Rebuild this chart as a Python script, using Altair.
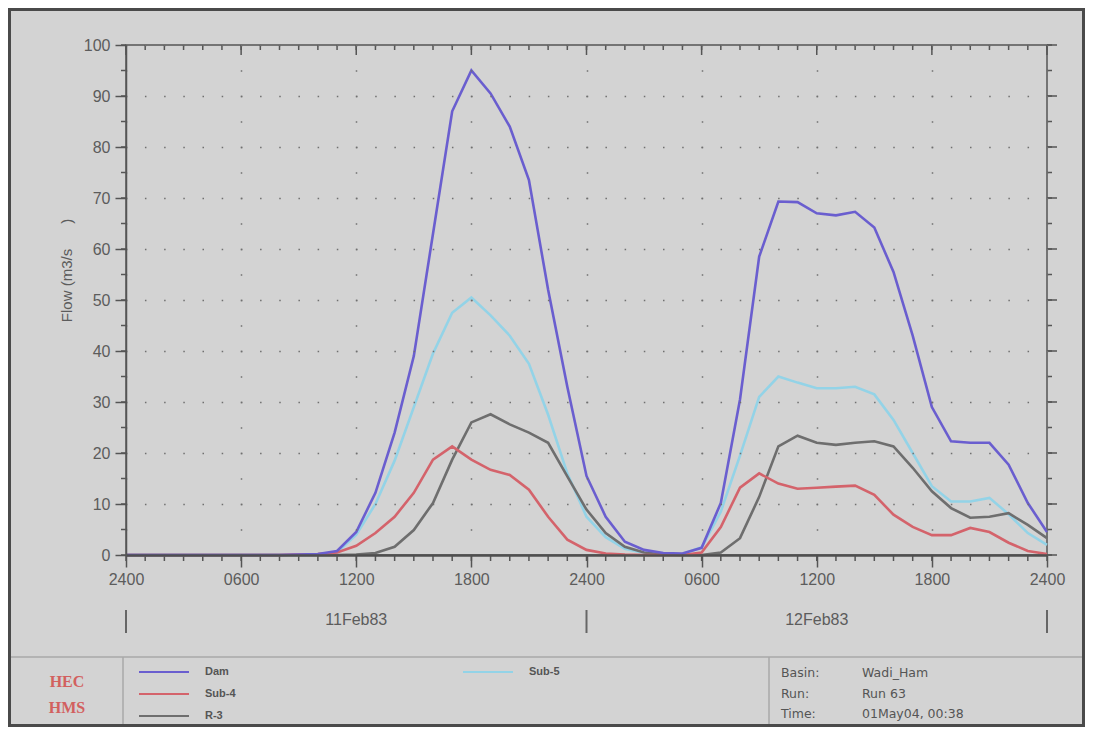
import json
import altair as alt
import pandas as pd

# ---------------- data ----------------
hours = list(range(49))  # hours since 2400 10Feb83
dam = [0, 0, 0, 0, 0, 0, 0, 0, 0, 0.1, 0.2,
       0.8, 4.5, 12.2, 24, 39, 63, 87, 95, 90.5, 84, 73.5, 52, 33, 15.5, 7.5, 2.6, 1.0, 0.4,
       0.3, 1.4, 10.2, 30.5, 58.5, 69.3, 69.2, 67, 66.6, 67.3, 64.2, 55.5, 43, 29, 22.3,
       22.0, 22.0, 17.7, 10.2, 4.5]
sub5 = [0, 0, 0, 0, 0, 0, 0, 0, 0, 0, 0.1,
        0.5, 4, 10, 18.5, 29, 39.5, 47.5, 50.5, 47, 43, 37.5, 27.5, 16, 7.5, 3.5, 1.2, 0.4, 0.1,
        0.2, 1.5, 8.5, 19.5, 31, 35, 33.8, 32.7, 32.7, 33, 31.5, 26.5, 20, 13.5, 10.5,
        10.5, 11.2, 8, 4.3, 2]
sub4 = [0, 0, 0, 0, 0, 0, 0, 0, 0, 0.1, 0.2,
        0.5, 1.8, 4.3, 7.5, 12.2, 18.7, 21.3, 18.7, 16.7, 15.7, 12.8, 7.5, 3, 1, 0.3, 0.1, 0, 0,
        0, 0.5, 5.5, 13.2, 16, 14, 13, 13.2, 13.4, 13.6, 11.8, 7.9, 5.5, 3.9, 3.9,
        5.3, 4.5, 2.4, 0.8, 0.2]
r3 = [0, 0, 0, 0, 0, 0, 0, 0, 0, 0, 0,
      0, 0.1, 0.4, 1.6, 4.9, 10.2, 18.7, 26, 27.6, 25.6, 24, 22, 15.4, 8.9, 4.3, 1.6, 0.5, 0.1,
      0, 0, 0.5, 3.3, 11.4, 21.3, 23.4, 22, 21.6, 22, 22.3, 21.3, 17.1, 12.5, 9.2,
      7.3, 7.5, 8.2, 5.9, 3.3]

series_main = ["Dam", "Sub-4", "R-3"]
colors_main = ["#6a5ecf", "#d4636b", "#6e6e6e"]
series_extra = ["Sub-5"]
colors_extra = ["#93d3e7"]

x_tick_values = [0, 6, 12, 18, 24, 30, 36, 42, 48]
x_tick_labels = ["2400", "0600", "1200", "1800", "2400", "0600", "1200", "1800", "2400"]
y_tick_values = list(range(0, 101, 10))
y_minor_values = list(range(0, 101, 5))

dates = ["11Feb83", "12Feb83"]
date_centers = [12, 36]
day_bounds = [0, 24, 48]

logo_lines = ["HEC", "HMS"]
info_labels = ["Basin:", "Run:", "Time:"]
info_values = ["Wadi_Ham", "Run 63", "01May04, 00:38"]

# ---------------- layout ----------------
W, H = 921, 510
AX = "#555555"
TXT = "#5c5c5c"
BG = "#d3d3d3"
FONT = "Liberation Sans"

xs = alt.Scale(domain=[0, 48], nice=False, zero=False)
ys = alt.Scale(domain=[0, 100], nice=False, zero=False)

label_expr = json.dumps(x_tick_labels) + "[round(datum.value / 6)]"

x_axis = alt.Axis(values=x_tick_values, labelExpr=label_expr, title=None,
                  tickSize=12, tickWidth=1.5, tickColor=AX,
                  domainColor="#4f4f4f", domainWidth=2.6,
                  labelFont=FONT, labelFontSize=16, labelColor=TXT, labelPadding=4,
                  labelFlush=False, labelOverlap=False, labelBound=False,
                  grid=True, gridColor="#707070", gridWidth=1.5,
                  gridDash=[1.5, 24.0], gridDashOffset=0.75, zindex=1)
y_axis = alt.Axis(values=y_tick_values,
                  title="Flow\u00a0(m3/s" + "\u00a0" * 6 + ")",
                  tickSize=11, tickWidth=1.5, tickColor=AX,
                  domainColor=AX, domainWidth=1.5,
                  labelFont=FONT, labelFontSize=16, labelColor=TXT, labelPadding=5,
                  grid=True, gridColor="#707070", gridWidth=1.5,
                  gridDash=[1.5, 17.6875], gridDashOffset=0.75,
                  titleFont=FONT, titleFontSize=15, titleFontWeight="normal", titleColor=TXT,
                  titleAngle=270, titleX=-60, titleY=225, titleAlign="center",
                  titleBaseline="middle", zindex=1)

X = alt.X("hour:Q", scale=xs, axis=x_axis)
Y = alt.Y("flow:Q", scale=ys, axis=y_axis)

df_main = pd.DataFrame([
    {"hour": h, "flow": v, "series": name}
    for name, vals in [("R-3", r3), ("Sub-4", sub4), ("Dam", dam)]
    for h, v in zip(hours, vals)
])
df_extra = pd.DataFrame({"hour": hours, "flow": sub5, "series": series_extra * len(hours)})

legend_common = dict(title=None, orient="none", symbolType="stroke", symbolSize=2500,
                     symbolStrokeWidth=2, labelFont=FONT, labelFontSize=11,
                     labelFontWeight="bold", labelColor="#555555", labelOffset=15,
                     clipHeight=22, rowPadding=0, padding=0, direction="vertical")

lines_extra = alt.Chart(df_extra).mark_line(strokeWidth=2.6).encode(
    x=X, y=Y,
    stroke=alt.Stroke("series:N", scale=alt.Scale(domain=series_extra, range=colors_extra),
                      legend=alt.Legend(legendX=336, legendY=616, **legend_common)),
)
lines_main = alt.Chart(df_main).mark_line(strokeWidth=2.6).encode(
    x=X, y=Y,
    color=alt.Color("series:N", scale=alt.Scale(domain=series_main, range=colors_main),
                    legend=alt.Legend(legendX=12, legendY=616, **legend_common)),
)

# minor / major ticks on the frame
df_hours = pd.DataFrame({"hour": hours})
df_major_h = pd.DataFrame({"hour": x_tick_values})
df_minor_f = pd.DataFrame({"flow": y_minor_values})
df_major_f = pd.DataFrame({"flow": y_tick_values})

tick_style = dict(color=AX, strokeWidth=1.5)
bottom_minor = alt.Chart(df_hours).mark_rule(**tick_style).encode(
    x=X, y=alt.value(H), y2=alt.value(H + 6))
top_minor = alt.Chart(df_hours).mark_rule(**tick_style).encode(
    x=X, y=alt.value(0), y2=alt.value(5))
top_major = alt.Chart(df_major_h).mark_rule(**tick_style).encode(
    x=X, y=alt.value(0), y2=alt.value(10))
left_minor = alt.Chart(df_minor_f).mark_rule(**tick_style).encode(
    y=Y, x=alt.value(-5), x2=alt.value(0))
right_minor = alt.Chart(df_minor_f).mark_rule(**tick_style).encode(
    y=Y, x=alt.value(W), x2=alt.value(W + 5))
right_major = alt.Chart(df_major_f).mark_rule(**tick_style).encode(
    y=Y, x=alt.value(W), x2=alt.value(W + 10))

# date row
df_dates = pd.DataFrame({"hour": date_centers, "label": dates})
date_text = alt.Chart(df_dates).mark_text(font=FONT, fontSize=16, color=TXT,
                                          baseline="middle", align="center").encode(
    x=X, y=alt.value(575), text="label:N")
df_bounds = pd.DataFrame({"hour": day_bounds})
day_bars = alt.Chart(df_bounds).mark_rule(color="#666666", strokeWidth=2).encode(
    x=X, y=alt.value(565), y2=alt.value(588))

# frame and panel separators
one = alt.Data(values=[{"k": 0}])
frame = alt.Chart(one).mark_rect(fill=BG, fillOpacity=0, stroke="#4a4a4a", strokeWidth=3).encode(
    x=alt.value(-116.5), x2=alt.value(957.5), y=alt.value(-35.5), y2=alt.value(680.5))
sep_h = alt.Chart(one).mark_rule(color="#a8a8a8", strokeWidth=1.5).encode(
    x=alt.value(-115), x2=alt.value(956), y=alt.value(612))
sep_v1 = alt.Chart(one).mark_rule(color="#a8a8a8", strokeWidth=1.5).encode(
    x=alt.value(-3), y=alt.value(612), y2=alt.value(679))
sep_v2 = alt.Chart(one).mark_rule(color="#a8a8a8", strokeWidth=1.5).encode(
    x=alt.value(643), y=alt.value(612), y2=alt.value(679))

layers = [frame, sep_h, sep_v1, sep_v2, day_bars, date_text,
          bottom_minor, top_minor, top_major, left_minor, right_minor, right_major,
          lines_extra, lines_main]

for i, word in enumerate(logo_lines):
    layers.append(alt.Chart(one).mark_text(font="Liberation Serif", fontSize=16,
                                           fontWeight="bold", color="#d2605e",
                                           align="center", baseline="middle").encode(
        x=alt.value(-59), y=alt.value(637 + 26 * i), text=alt.value(word)))

for i, (lab, val) in enumerate(zip(info_labels, info_values)):
    layers.append(alt.Chart(one).mark_text(font="DejaVu Sans", fontSize=12.5, color="#555555",
                                           align="left", baseline="middle").encode(
        x=alt.value(655), y=alt.value(628 + 20.5 * i), text=alt.value(lab)))
    layers.append(alt.Chart(one).mark_text(font="DejaVu Sans", fontSize=12.5, color="#555555",
                                           align="left", baseline="middle").encode(
        x=alt.value(736), y=alt.value(628 + 20.5 * i), text=alt.value(val)))

chart = alt.layer(*layers).properties(
    width=W, height=H,
    padding={"left": 118, "top": 37, "right": 38, "bottom": 172},
    autosize=alt.AutoSizeParams(type="none"),
).configure(background=BG).configure_view(stroke=AX, strokeWidth=1.5)

chart.save("out.html", embed_options={"renderer": "svg", "actions": False})
